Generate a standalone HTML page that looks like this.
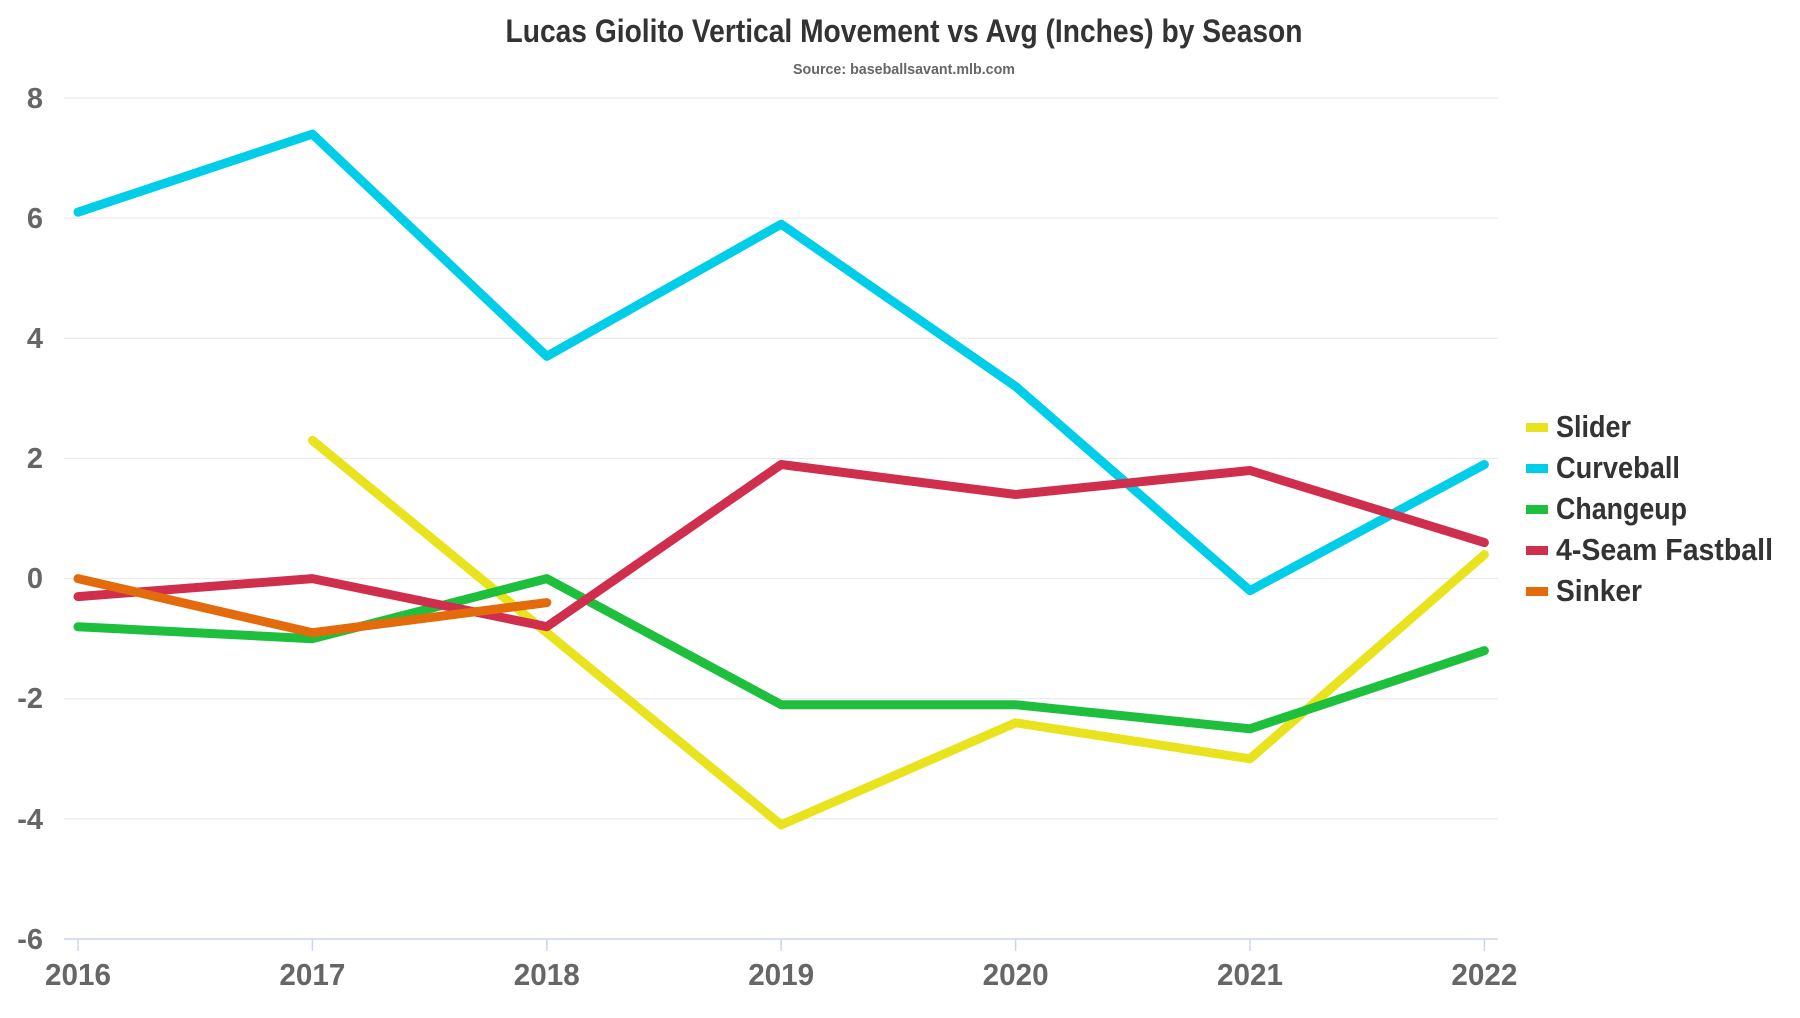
<!DOCTYPE html>
<html><head><style>html,body{margin:0;padding:0;background:#fff}</style></head><body>
<svg width="1800" height="1013" xmlns="http://www.w3.org/2000/svg" font-family="'Liberation Sans Narrow','Liberation Sans',sans-serif" font-weight="bold">
<rect width="1800" height="1013" fill="#fff"/>
<text x="904" y="42" text-anchor="middle" font-size="32" fill="#333" textLength="797" lengthAdjust="spacingAndGlyphs">Lucas Giolito Vertical Movement vs Avg (Inches) by Season</text>
<text x="904" y="74" text-anchor="middle" font-size="15" fill="#666" textLength="222" lengthAdjust="spacingAndGlyphs">Source: baseballsavant.mlb.com</text>
<g stroke="#e6e6e6" stroke-width="1">
<line x1="64" x2="1498" y1="98" y2="98"/>
<line x1="64" x2="1498" y1="218.1" y2="218.1"/>
<line x1="64" x2="1498" y1="338.3" y2="338.3"/>
<line x1="64" x2="1498" y1="458.4" y2="458.4"/>
<line x1="64" x2="1498" y1="578.6" y2="578.6"/>
<line x1="64" x2="1498" y1="698.7" y2="698.7"/>
<line x1="64" x2="1498" y1="818.8" y2="818.8"/>
</g>
<line x1="64" x2="1498" y1="939" y2="939" stroke="#ccd6eb" stroke-width="1.5"/>
<g stroke="#ccd6eb" stroke-width="1.5">
<line x1="78" x2="78" y1="939" y2="951"/><line x1="312.4" x2="312.4" y1="939" y2="951"/><line x1="546.8" x2="546.8" y1="939" y2="951"/><line x1="781.2" x2="781.2" y1="939" y2="951"/><line x1="1015.6" x2="1015.6" y1="939" y2="951"/><line x1="1250" x2="1250" y1="939" y2="951"/><line x1="1484.4" x2="1484.4" y1="939" y2="951"/>
</g>
<g font-size="29" fill="#666" text-anchor="end">
<text x="43" y="108">8</text><text x="43" y="228">6</text><text x="43" y="348">4</text><text x="43" y="468">2</text><text x="43" y="588">0</text><text x="43" y="708">-2</text><text x="43" y="829">-4</text><text x="43" y="949">-6</text>
</g>
<g font-size="31" fill="#666" text-anchor="middle">
<text x="78" y="985" textLength="66" lengthAdjust="spacingAndGlyphs">2016</text><text x="312.4" y="985" textLength="66" lengthAdjust="spacingAndGlyphs">2017</text><text x="546.8" y="985" textLength="66" lengthAdjust="spacingAndGlyphs">2018</text><text x="781.2" y="985" textLength="66" lengthAdjust="spacingAndGlyphs">2019</text><text x="1015.6" y="985" textLength="66" lengthAdjust="spacingAndGlyphs">2020</text><text x="1250" y="985" textLength="66" lengthAdjust="spacingAndGlyphs">2021</text><text x="1484.4" y="985" textLength="66" lengthAdjust="spacingAndGlyphs">2022</text>
</g>
<g fill="none" stroke-width="9" stroke-linecap="round" stroke-linejoin="round">
<polyline stroke="#e8e31c" points="312.4,440.4 546.8,632.7 781.2,824.9 1015.6,722.8 1250,758.8 1484.4,554.6"/>
<polyline stroke="#00cde8" points="78,212.2 312.4,134.1 546.8,356.3 781.2,224.2 1015.6,386.4 1250,590.6 1484.4,464.5"/>
<polyline stroke="#1dbf3c" points="78,626.7 312.4,638.7 546.8,578.6 781.2,704.7 1015.6,704.7 1250,728.8 1484.4,650.7"/>
<polyline stroke="#d02e4d" points="78,596.6 312.4,578.6 546.8,626.7 781.2,464.5 1015.6,494.5 1250,470.5 1484.4,542.6"/>
<polyline stroke="#e36b0c" points="78,578.6 312.4,632.7 546.8,602.6"/>
</g>
<g>
<rect x="1526" y="423" width="22" height="9" fill="#e8e31c"/>
<rect x="1526" y="464" width="22" height="9" fill="#00cde8"/>
<rect x="1526" y="505" width="22" height="9" fill="#1dbf3c"/>
<rect x="1526" y="546" width="22" height="9" fill="#d02e4d"/>
<rect x="1526" y="587" width="22" height="9" fill="#e36b0c"/>
</g>
<g font-size="31" fill="#333">
<text x="1556" y="437" textLength="75" lengthAdjust="spacingAndGlyphs">Slider</text>
<text x="1556" y="478" textLength="124" lengthAdjust="spacingAndGlyphs">Curveball</text>
<text x="1556" y="519" textLength="131" lengthAdjust="spacingAndGlyphs">Changeup</text>
<text x="1556" y="560" textLength="217" lengthAdjust="spacingAndGlyphs">4-Seam Fastball</text>
<text x="1556" y="601" textLength="86" lengthAdjust="spacingAndGlyphs">Sinker</text>
</g>
</svg>
</body></html>
